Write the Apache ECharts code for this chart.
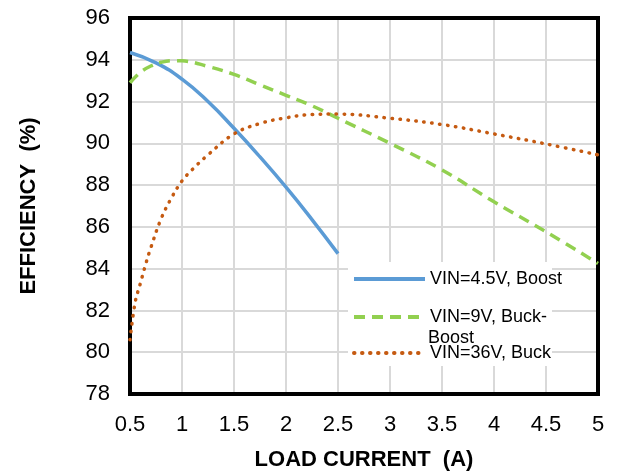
<!DOCTYPE html>
<html>
<head>
<meta charset="utf-8">
<script src="https://cdn.jsdelivr.net/npm/echarts@6/dist/echarts.min.js"></script>
<style>html,body{margin:0;padding:0;background:#fff}#c{width:621px;height:476px}</style>
</head>
<body>
<div id="c"></div>
<script>
var xBoost = [0.5, 0.75, 1.0, 1.25, 1.5, 1.75, 2.0, 2.25, 2.5];
var yBoost = [94.35, 93.85, 93.07, 92.0, 90.72, 89.35, 87.9, 86.35, 84.72];
var xBuckBoost = [0.5, 0.6, 0.7, 0.8, 0.9, 1.0, 1.25, 1.5, 1.75, 2.0, 2.25, 2.5, 3.0, 3.5, 4.0, 4.5, 5.0];
var yBuckBoost = [92.9, 93.4, 93.7, 93.88, 93.96, 93.95, 93.68, 93.3, 92.8, 92.3, 91.8, 91.2, 90.0, 88.73, 87.2, 85.77, 84.25];
var xBuck = [0.5, 0.55, 0.6, 0.65, 0.7, 0.8, 0.9, 1.0, 1.1, 1.25, 1.5, 1.75, 2.0, 2.25, 2.5, 3.0, 3.5, 4.0, 4.5, 5.0];
var yBuck = [80.6, 82.4, 83.3, 84.2, 85.0, 86.4, 87.4, 88.2, 88.75, 89.45, 90.45, 90.95, 91.22, 91.38, 91.4, 91.2, 90.9, 90.45, 89.97, 89.45];
var seriesNames = ['VIN=4.5V, Boost', 'VIN=9V, Buck-Boost', 'VIN=36V, Buck'];
var xTitle = 'LOAD CURRENT  (A)';
var yTitle = 'EFFICIENCY  (%)';

function pairs(xs, ys) { return xs.map(function (x, i) { return [x, ys[i]]; }); }

var font = '"Liberation Sans", Arial, sans-serif';
var chart = echarts.init(document.getElementById('c'), null, {renderer: 'canvas'});
var legendText = {fontFamily: font, fontSize: 18, color: '#000'};
function legendOf(i, top, fmt) {
  var l = {data: [seriesNames[i]], orient: 'vertical', left: 352, top: top, padding: 0,
    itemWidth: 71, itemHeight: 14, textStyle: legendText, itemStyle: {opacity: 0},
    lineStyle: {width: 4}};
  if (fmt) l.formatter = fmt;
  return l;
}
chart.setOption({
  animation: false,
  grid: {left: 130, right: 23, top: 18, bottom: 81, show: true, borderColor: '#000', borderWidth: 4, z: 3},
  xAxis: {
    type: 'value', min: 0.5, max: 5, interval: 0.5,
    name: xTitle, nameLocation: 'middle', nameGap: 55,
    nameTextStyle: {fontFamily: font, fontSize: 22, fontWeight: 'bold', color: '#000'},
    axisLine: {show: false}, axisTick: {show: false},
    axisLabel: {fontFamily: font, fontSize: 22, color: '#000', margin: 20},
    splitLine: {lineStyle: {color: '#d9d9d9', width: 2}}
  },
  yAxis: {
    type: 'value', min: 78, max: 96, interval: 2,
    name: yTitle, nameLocation: 'middle', nameGap: 90,
    nameTextStyle: {fontFamily: font, fontSize: 22, fontWeight: 'bold', color: '#000'},
    axisLine: {show: false}, axisTick: {show: false},
    axisLabel: {fontFamily: font, fontSize: 22, color: '#000', margin: 20},
    splitLine: {lineStyle: {color: '#d9d9d9', width: 2}}
  },
  legend: [
    legendOf(0, 270),
    legendOf(1, 308, function () { return 'VIN=9V, Buck-'; }),
    legendOf(2, 344)
  ],
  graphic: [
    {type: 'rect', shape: {x: 348, y: 262, width: 204, height: 104}, style: {fill: '#fff'}, z: 1},
    {type: 'text', left: 428, top: 329, style: {text: 'Boost', font: '18px ' + font, fill: '#000'}, z: 5}
  ],
  series: [
    {name: seriesNames[0], type: 'line', smooth: 0.5, symbol: 'none', data: pairs(xBoost, yBoost),
      lineStyle: {color: '#5b9bd5', width: 3.5}, itemStyle: {color: '#5b9bd5'}, z: 4},
    {name: seriesNames[1], type: 'line', smooth: 0.4, symbol: 'none', data: pairs(xBuckBoost, yBuckBoost),
      lineStyle: {color: '#92d050', width: 3.5, type: [11, 7]}, itemStyle: {color: '#92d050'}, z: 4},
    {name: seriesNames[2], type: 'line', smooth: 0.4, symbol: 'none', data: pairs(xBuck, yBuck),
      lineStyle: {color: '#c55a11', width: 3.5, type: [0.5, 7.5], cap: 'round'}, itemStyle: {color: '#c55a11'}, z: 4}
  ]
});
</script>
</body>
</html>
